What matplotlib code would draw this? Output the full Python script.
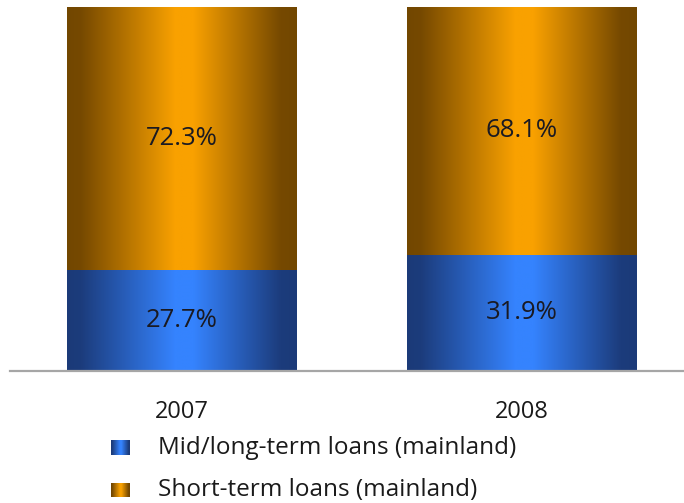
import matplotlib.pyplot as plt
import numpy as np
from matplotlib.colors import LinearSegmentedColormap

plt.rcParams['font.family'] = ['Open Sans', 'DejaVu Sans']

# loan mix by year, in percent
years = ['2007', '2008']
mid_long = [27.7, 31.9]
short = [72.3, 68.1]
series_names = ['Mid/long-term loans (mainland)', 'Short-term loans (mainland)']

# shaded bar fills, dark at the edges and bright in the middle
stops = [0.0, 0.06, 0.47, 0.55, 0.93, 1.0]
blue_cols = ['#1b3a78', '#1c3c7c', '#3583fe', '#3583fe', '#1c3c7c', '#1b3a78']
orange_cols = ['#724700', '#764900', '#f9a100', '#f9a100', '#764900', '#724700']
blue_map = LinearSegmentedColormap.from_list('blue_bar', list(zip(stops, blue_cols)))
orange_map = LinearSegmentedColormap.from_list('orange_bar', list(zip(stops, orange_cols)))
shade = np.linspace(0, 1, 256).reshape(1, -1)

fig = plt.figure(figsize=(6.84, 5.03), dpi=100)
ax = fig.add_axes([10 / 684, (503 - 371) / 503, 674 / 684, (371 - 7) / 503])

width = 0.677
x = np.arange(len(years))
for i in x:
    lo, hi = 0, mid_long[i]
    ax.imshow(shade, cmap=blue_map, aspect='auto', interpolation='bilinear',
              extent=(i - width / 2, i + width / 2, lo, hi))
    ax.text(i, (lo + hi) / 2, f'{mid_long[i]:.1f}%', ha='center', va='center',
            fontsize=18.5, color='#1a1a22')
    lo, hi = mid_long[i], mid_long[i] + short[i]
    ax.imshow(shade, cmap=orange_map, aspect='auto', interpolation='bilinear',
              extent=(i - width / 2, i + width / 2, lo, hi))
    ax.text(i, (lo + hi) / 2, f'{short[i]:.1f}%', ha='center', va='center',
            fontsize=18.5, color='#1a1a22')

ax.set_xlim(-0.5066, 1.4786)
ax.set_ylim(0, 100)
ax.set_xticks(x)
ax.set_xticklabels(years, fontsize=17, color='#1a1a1a')
ax.tick_params(axis='x', length=0, pad=21)
ax.set_yticks([])
for side in ['left', 'right', 'top']:
    ax.spines[side].set_visible(False)
ax.spines['bottom'].set_color('#a6a6a6')
ax.spines['bottom'].set_linewidth(1.6)
ax.spines['bottom'].set_zorder(5)

# legend drawn by hand: shaded swatch plus label
legend_rows = [(440, 455, blue_map), (483, 497, orange_map)]
for (top, bottom, cmap), name in zip(legend_rows, series_names):
    sw = fig.add_axes([111 / 684, (503 - bottom) / 503, 19 / 684, (bottom - top) / 503])
    sw.imshow(shade, cmap=cmap, aspect='auto', interpolation='bilinear')
    sw.axis('off')
    fig.text(158 / 684, (503 - (top + bottom) / 2) / 503, name, ha='left', va='center',
             fontsize=17.5, color='#1a1a1a')

fig.savefig('out.png', dpi=100)
